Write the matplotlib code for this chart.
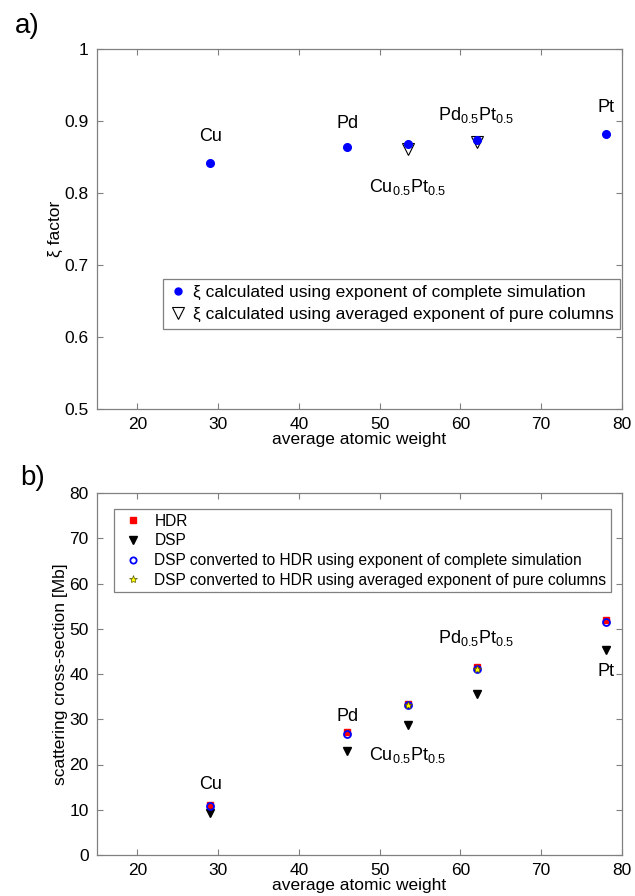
import matplotlib
matplotlib.use("Agg")
import matplotlib.pyplot as plt
from matplotlib.lines import Line2D

plt.rcParams['font.family'] = ['Liberation Sans', 'DejaVu Sans']
plt.rcParams['mathtext.fontset'] = 'custom'
plt.rcParams['mathtext.rm'] = 'Liberation Sans'
plt.rcParams['mathtext.it'] = 'Liberation Sans'
plt.rcParams['mathtext.default'] = 'rm'

# ---- data ----
materials = ['Cu', 'Pd', r'Cu$_{0.5}$Pt$_{0.5}$', r'Pd$_{0.5}$Pt$_{0.5}$', 'Pt']
weight = [29, 46, 53.5, 62, 78]
xi_complete = [0.842, 0.864, 0.868, 0.874, 0.882]
alloy_weight = [53.5, 62]
xi_averaged = [0.861, 0.871]
label_y_a = [0.879, 0.897, 0.808, 0.908, 0.919]

hdr = [11.1, 27.1, 33.4, 41.5, 52.0]
dsp = [9.2, 23.0, 28.8, 35.5, 45.2]
dsp_conv_complete = [10.9, 26.7, 33.1, 41.2, 51.6]
dsp_conv_averaged = [33.1, 41.1]
label_y_b = [15.5, 30.5, 22.0, 48.0, 40.5]

xticks = [20, 30, 40, 50, 60, 70, 80]
yticks_a = [0.5, 0.6, 0.7, 0.8, 0.9, 1.0]
yticks_a_labels = ['0.5', '0.6', '0.7', '0.8', '0.9', '1']
yticks_b = [0, 10, 20, 30, 40, 50, 60, 70, 80]

fig = plt.figure(figsize=(6.35, 8.96), dpi=100)
axa = fig.add_axes([97/635, 1-409/896, 525/635, 360/896])
axb = fig.add_axes([97/635, 1-855/896, 525/635, 362/896])

spine_col = '#808080'
for ax in (axa, axb):
    for s in ax.spines.values():
        s.set_color(spine_col)
        s.set_linewidth(0.9)
    ax.tick_params(direction='in', top=True, right=True, length=4,
                   color=spine_col, labelsize=12.5, labelcolor='black', pad=6)
    ax.set_xlim(15, 80)
    ax.set_xticks(xticks)
    ax.set_xlabel('average atomic weight', fontsize=12.5, labelpad=0)

# ---- panel a ----
axa.plot(alloy_weight, xi_averaged, linestyle='none', marker='v', ms=9,
         mfc='white', mec='black', mew=0.8, zorder=2)
axa.plot(weight, xi_complete, linestyle='none', marker='o', ms=5.5,
         mfc='blue', mec='blue', zorder=3)
axa.set_ylim(0.5, 1.0)
axa.set_yticks(yticks_a)
axa.set_yticklabels(yticks_a_labels)
axa.set_ylabel('ξ factor', fontsize=12.5, labelpad=1)
for x, y, t in zip(weight, label_y_a, materials):
    axa.text(x, y, t, ha='center', va='center', fontsize=13)
ha = [Line2D([], [], linestyle='none', marker='o', ms=5, mfc='blue', mec='blue'),
      Line2D([], [], linestyle='none', marker='v', ms=9, mfc='white', mec='black', mew=0.8)]
lega = axa.legend(ha, ['ξ calculated using exponent of complete simulation',
                       'ξ calculated using averaged exponent of pure columns'],
                  loc='upper left', bbox_to_anchor=(66/525, (409-279)/360),
                  fontsize=12.5, frameon=True, fancybox=False, borderpad=0.35,
                  handlelength=1.0, handletextpad=0.4, labelspacing=0.4,
                  borderaxespad=0)
lega.get_frame().set_edgecolor('#606060')
lega.get_frame().set_linewidth(0.9)

# ---- panel b ----
axb.plot(weight, hdr, linestyle='none', marker='s', ms=4.5, mfc='red', mec='red', zorder=2)
axb.plot(weight, dsp, linestyle='none', marker='v', ms=6, mfc='black', mec='black', zorder=2)
axb.plot(weight, dsp_conv_complete, linestyle='none', marker='o', ms=5,
         mfc='none', mec='blue', mew=1.3, zorder=3)
axb.plot(alloy_weight, dsp_conv_averaged, linestyle='none', marker='*', ms=6,
         mfc='yellow', mec='#555500', mew=0.5, zorder=4)
axb.set_ylim(0, 80)
axb.set_yticks(yticks_b)
axb.set_ylabel('scattering cross-section [Mb]', fontsize=12.5, labelpad=1)
for x, y, t in zip(weight, label_y_b, materials):
    axb.text(x, y, t, ha='center', va='center', fontsize=13)
hb = [Line2D([], [], linestyle='none', marker='s', ms=4, mfc='red', mec='red'),
      Line2D([], [], linestyle='none', marker='v', ms=5.5, mfc='black', mec='black'),
      Line2D([], [], linestyle='none', marker='o', ms=4.5, mfc='none', mec='blue', mew=1.3),
      Line2D([], [], linestyle='none', marker='*', ms=6, mfc='yellow', mec='#555500', mew=0.5)]
legb = axb.legend(hb, ['HDR', 'DSP',
                       'DSP converted to HDR using exponent of complete simulation',
                       'DSP converted to HDR using averaged exponent of pure columns'],
                  loc='upper left', bbox_to_anchor=(17/525, 1-(509-493)/362),
                  fontsize=11.2, frameon=True, fancybox=False, borderpad=0.3,
                  handlelength=1.8, handletextpad=0.5, labelspacing=0.3,
                  borderaxespad=0)
legb.get_frame().set_edgecolor('#606060')
legb.get_frame().set_linewidth(0.9)

fig.text(27/635, 1-26/896, 'a)', fontsize=20, ha='center', va='center')
fig.text(33/635, 1-478/896, 'b)', fontsize=20, ha='center', va='center')

fig.savefig('out.png', dpi=100)
